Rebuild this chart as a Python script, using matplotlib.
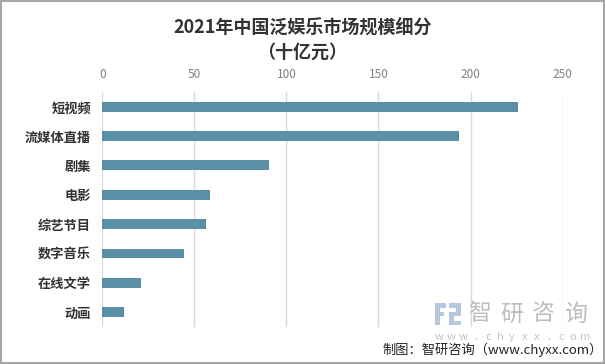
import matplotlib.pyplot as plt
import numpy as np

plt.rcParams['font.family'] = ['Noto Sans CJK SC', 'DejaVu Sans']

categories = ['短视频', '流媒体直播', '剧集', '电影', '综艺节目', '数字音乐', '在线文学', '动画']
values = [225.8, 193.7, 90.6, 58.4, 56.2, 44.2, 20.9, 11.8]
xticks = [0, 50, 100, 150, 200, 250]

W, H = 605, 364
fig = plt.figure(figsize=(W / 100, H / 100), dpi=100)
ax = fig.add_axes([0.169, 0.102, 0.761, 0.645])

y = np.arange(len(categories))
ax.barh(y, values, height=0.34, color='#5b8fa7', zorder=3)
ax.set_ylim(len(categories) - 0.5, -0.5)
ax.set_xlim(0, 250)
ax.set_yticks(y)
ax.set_yticklabels(categories, fontsize=9.5, fontweight='bold', color='#333333')
ax.set_xticks(xticks)
ax.xaxis.tick_top()
ax.tick_params(axis='x', labelsize=8.5, labelcolor='#7f7f7f', length=0, pad=8)
ax.tick_params(axis='y', length=0, pad=8)
ax.grid(axis='x', color='#d9d9d9', lw=1, zorder=0)
for s in ax.spines.values():
    s.set_visible(False)

fig.text(0.5, 0.923, '2021年中国泛娱乐市场规模细分', ha='center', va='center',
         fontsize=13, fontweight='bold', color='#333333')
fig.text(0.5, 0.857, '（十亿元）', ha='center', va='center',
         fontsize=13, fontweight='bold', color='#333333')

# watermark logo
for i, ch in enumerate('智研咨询'):
    fig.text((480 + i * 31.7) / W, 1 - 314 / H, ch, ha='center', va='center',
             fontsize=16.5, color='#bdbdbd', zorder=5)
for i, ch in enumerate('www.chyxx.com'):
    fig.text((439 + i * 12.2) / W, 1 - 337 / H, ch, ha='center', va='center',
             fontsize=8, color='#c4c4c4')
icon = [(435, 303, 11, 5), (435, 303, 5, 22), (435, 312, 9, 4), (449, 303, 12, 5),
        (456, 303, 5, 13), (449, 312, 12, 4), (449, 312, 5, 13), (449, 321, 12, 4)]
for x0, y0, w0, h0 in icon:
    fig.patches.append(plt.Rectangle((x0 / W, 1 - (y0 + h0) / H), w0 / W, h0 / H,
                                     transform=fig.transFigure, facecolor='#b7c7de',
                                     edgecolor='none', zorder=5))

fig.text(0.996, 1 - 350 / H, '制图：智研咨询（www.chyxx.com）', ha='right', va='center',
         fontsize=9.5, color='#222222')

fig.patches.append(plt.Rectangle((0.001, 0.002), 0.997, 0.995, transform=fig.transFigure,
                                 fill=False, edgecolor='#a6a6a6', lw=1.5))

fig.savefig('out.png', dpi=100)
